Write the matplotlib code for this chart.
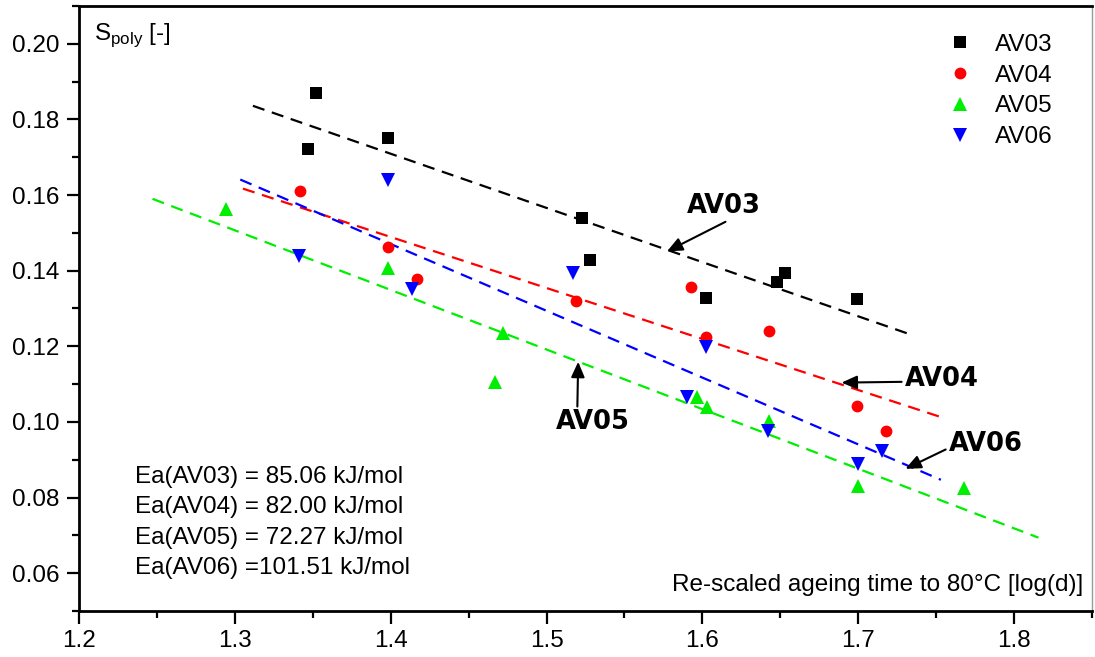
import numpy as np
import matplotlib
matplotlib.use('Agg')
import matplotlib.pyplot as plt
from matplotlib.ticker import MultipleLocator, FormatStrFormatter

plt.rcParams['font.family'] = ['Liberation Sans', 'DejaVu Sans']
plt.rcParams['mathtext.fontset'] = 'custom'
plt.rcParams['mathtext.rm'] = 'Liberation Sans'

# measured points
names = ['AV03', 'AV04', 'AV05', 'AV06']
x_av03 = [1.347, 1.352, 1.398, 1.523, 1.528, 1.602, 1.648, 1.653, 1.699]
y_av03 = [0.1723, 0.1870, 0.1750, 0.1538, 0.1429, 0.1329, 0.1369, 0.1394, 0.1325]
x_av04 = [1.342, 1.398, 1.417, 1.519, 1.593, 1.602, 1.643, 1.699, 1.718]
y_av04 = [0.1610, 0.1462, 0.1378, 0.1320, 0.1356, 0.1225, 0.1240, 0.1042, 0.0977]
x_av05 = [1.2945, 1.398, 1.467, 1.472, 1.5965, 1.603, 1.643, 1.700, 1.768]
y_av05 = [0.1562, 0.1407, 0.1106, 0.1236, 0.1067, 0.1039, 0.1003, 0.0830, 0.0825]
x_av06 = [1.341, 1.398, 1.414, 1.517, 1.590, 1.602, 1.642, 1.700, 1.715]
y_av06 = [0.1438, 0.1641, 0.1351, 0.1395, 0.1067, 0.1197, 0.0975, 0.0889, 0.0924]

# fitted lines (end points)
fit_x = [[1.3116, 1.733], [1.3052, 1.7544], [1.2472, 1.8156], [1.3035, 1.753]]
fit_y = [[0.1836, 0.1232], [0.1617, 0.1011], [0.1590, 0.0694], [0.1641, 0.0847]]

ea_labels = ['Ea(AV03) = 85.06 kJ/mol', 'Ea(AV04) = 82.00 kJ/mol',
             'Ea(AV05) = 72.27 kJ/mol', 'Ea(AV06) =101.51 kJ/mol']

xs = [x_av03, x_av04, x_av05, x_av06]
ys = [y_av03, y_av04, y_av05, y_av06]
colors = ['black', '#ff0000', '#00ee00', '#0000ff']
markers = ['s', 'o', '^', 'v']
msizes = [8, 8.5, 10, 10]
fs = 17.5

fig = plt.figure(figsize=(10.95, 6.57), dpi=100)
ax = fig.add_axes([0.0721, 0.070, 0.9252, 0.9209])

for i in range(4):
    ax.plot(fit_x[i], fit_y[i], color=colors[i], lw=1.6, dashes=(5.5, 3.5))
for i in range(4):
    ax.plot(xs[i], ys[i], ls='none', marker=markers[i], color=colors[i],
            ms=msizes[i], mew=0, label=names[i])

ax.set_xlim(1.2, 1.85)
ax.set_ylim(0.05, 0.21)
ax.xaxis.set_major_locator(MultipleLocator(0.1))
ax.xaxis.set_minor_locator(MultipleLocator(0.05))
ax.yaxis.set_minor_locator(MultipleLocator(0.01))
ax.xaxis.set_major_formatter(FormatStrFormatter('%.1f'))
ax.yaxis.set_major_formatter(FormatStrFormatter('%.2f'))
ax.set_yticks([0.06, 0.08, 0.10, 0.12, 0.14, 0.16, 0.18, 0.20])
ax.tick_params(which='major', direction='out', length=9, width=1.6, labelsize=fs, pad=5)
ax.tick_params(which='minor', direction='out', length=5, width=1.6)
ax.tick_params(top=False, right=False)
for s in ['left', 'bottom', 'top']:
    ax.spines[s].set_linewidth(2.0)
ax.spines['right'].set_linewidth(1.0)
ax.spines['right'].set_color('#999999')

ax.text(0.015, 0.975, r'S$_{\mathrm{poly}}$ [-]', transform=ax.transAxes,
        fontsize=fs, ha='left', va='top')
ax.text(0.991, 0.043, 'Re-scaled ageing time to 80°C [log(d)]', transform=ax.transAxes,
        fontsize=fs, ha='right', va='center')

ea_y = [0.222, 0.172, 0.1207, 0.0711]
for lab, yy in zip(ea_labels, ea_y):
    ax.text(0.0553, yy, lab, transform=ax.transAxes, fontsize=fs, ha='left', va='center')

leg = ax.legend(loc='upper right', bbox_to_anchor=(0.9615, 0.954), frameon=False,
                fontsize=fs, handlelength=1.0, handletextpad=0.95, labelspacing=0.36,
                borderpad=0, borderaxespad=0, numpoints=1)

# arrow labels
ann_text = [(1.6136, 0.1571), (1.7533, 0.1113), (1.5297, 0.0999), (1.7816, 0.0941)]
ann_tip = [(1.5773, 0.1451), (1.6893, 0.1104), (1.5203, 0.1159), (1.7303, 0.0876)]
ann_rel = [(0.6, 0.0), (0.0, 0.4), (0.29, 1.0), (0.0, 0.35)]
for i in range(4):
    ax.annotate(names[i], xy=ann_tip[i], xytext=ann_text[i], ha='center', va='center',
                fontsize=18.5, fontweight='bold', family='DejaVu Sans',
                arrowprops=dict(arrowstyle='-|>,head_length=0.5,head_width=0.22',
                                color='black', lw=1.5, relpos=ann_rel[i],
                                shrinkA=0, shrinkB=0))

fig.savefig('out.png', dpi=100)
